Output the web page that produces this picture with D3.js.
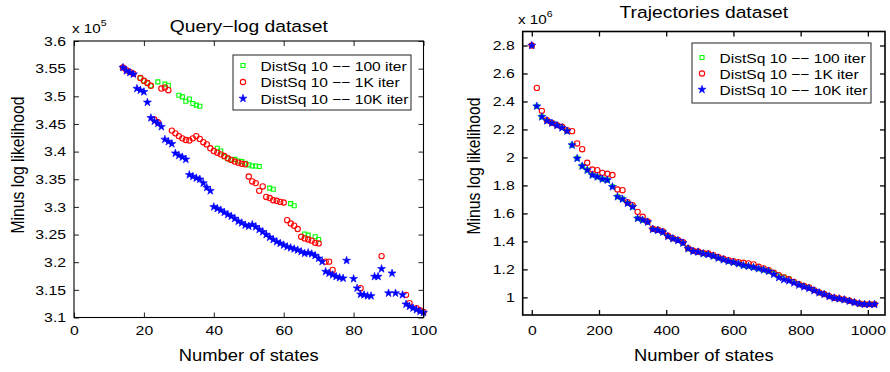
<!DOCTYPE html>
<html>
<head>
<meta charset="utf-8">
<script src="https://cdn.jsdelivr.net/npm/d3@7/dist/d3.min.js"></script>
<style>
  body { margin: 0; background: #fff; }
  svg text { font-family: "Liberation Sans", Arial, Helvetica, sans-serif; fill: #000; }
</style>
</head>
<body>
<svg id="chart" width="890" height="372"></svg>
<script>
// ---- Query-log dataset (values x 1e5) ----
var queryStates100 = [19, 20, 21, 22, 24, 26, 27, 30, 31, 32, 33, 34, 35, 36, 41, 42, 43, 44, 45, 46, 47, 48, 49, 50, 51, 52, 53, 56, 57, 62, 63, 66, 67, 69, 70];
var queryValues100 = [3.533, 3.528, 3.524, 3.519, 3.526, 3.522, 3.520, 3.502, 3.499, 3.491, 3.495, 3.487, 3.484, 3.482, 3.406, 3.401, 3.391, 3.387, 3.385, 3.386, 3.383, 3.382, 3.379, 3.376, 3.374, 3.374, 3.373, 3.334, 3.332, 3.306, 3.302, 3.251, 3.249, 3.246, 3.241];

var queryStates1K = [14, 15, 16, 17, 19, 20, 21, 22, 23, 24, 25, 26, 27, 28, 29, 30, 31, 32, 33, 34, 35, 36, 37, 38, 39, 40, 41, 42, 43, 44, 45, 46, 47, 48, 49, 50, 51, 52, 53, 54, 55, 56, 57, 58, 59, 60, 61, 62, 63, 64, 65, 66, 67, 68, 69, 70, 72, 73, 74, 82, 88, 95, 96, 98, 99, 100];
var queryValues1K = [3.552, 3.547, 3.544, 3.541, 3.533, 3.528, 3.524, 3.519, 3.458, 3.453, 3.514, 3.516, 3.511, 3.438, 3.433, 3.428, 3.424, 3.421, 3.420, 3.424, 3.428, 3.423, 3.417, 3.413, 3.406, 3.401, 3.398, 3.395, 3.392, 3.388, 3.385, 3.382, 3.380, 3.378, 3.377, 3.355, 3.346, 3.343, 3.329, 3.337, 3.318, 3.316, 3.312, 3.311, 3.309, 3.308, 3.276, 3.270, 3.266, 3.260, 3.246, 3.243, 3.241, 3.239, 3.235, 3.234, 3.201, 3.201, 3.186, 3.153, 3.211, 3.141, 3.126, 3.117, 3.113, 3.110];

var queryStates10K = [14, 15, 16, 17, 18, 19, 20, 21, 22, 23, 24, 25, 26, 27, 28, 29, 30, 31, 32, 33, 34, 35, 36, 37, 38, 39, 40, 41, 42, 43, 44, 45, 46, 47, 48, 49, 50, 51, 52, 53, 54, 55, 56, 57, 58, 59, 60, 61, 62, 63, 64, 65, 66, 67, 68, 69, 70, 71, 72, 73, 74, 75, 76, 77, 78, 80, 81, 82, 83, 84, 85, 86, 87, 88, 90, 91, 92, 94, 95, 96, 97, 98, 99, 100];
var queryValues10K = [3.552, 3.546, 3.543, 3.540, 3.514, 3.511, 3.508, 3.489, 3.461, 3.455, 3.451, 3.445, 3.422, 3.418, 3.414, 3.397, 3.393, 3.390, 3.386, 3.358, 3.355, 3.352, 3.350, 3.343, 3.335, 3.329, 3.300, 3.297, 3.294, 3.290, 3.286, 3.283, 3.279, 3.274, 3.271, 3.267, 3.265, 3.268, 3.264, 3.259, 3.255, 3.250, 3.245, 3.241, 3.237, 3.234, 3.231, 3.228, 3.226, 3.224, 3.222, 3.219, 3.216, 3.217, 3.215, 3.212, 3.207, 3.201, 3.183, 3.180, 3.177, 3.174, 3.172, 3.171, 3.203, 3.170, 3.153, 3.142, 3.141, 3.139, 3.139, 3.174, 3.174, 3.188, 3.144, 3.180, 3.144, 3.141, 3.124, 3.120, 3.117, 3.114, 3.111, 3.109];

// ---- Trajectories dataset (values x 1e6) ----
var trajStates = [0, 15, 30, 45, 60, 75, 90, 105, 120, 135, 150, 165, 180, 195, 210, 225, 240, 255, 270, 285, 300, 315, 330, 345, 360, 375, 390, 405, 420, 435, 450, 465, 480, 495, 510, 525, 540, 555, 570, 585, 600, 615, 630, 645, 660, 675, 690, 705, 720, 735, 750, 765, 780, 795, 810, 825, 840, 855, 870, 885, 900, 915, 930, 945, 960, 975, 990, 1005, 1020];
var trajValues100 = [2.800, 2.366, 2.290, 2.262, 2.245, 2.228, 2.212, 2.188, 2.088, 1.993, 1.938, 1.909, 1.874, 1.861, 1.845, 1.838, 1.790, 1.719, 1.702, 1.672, 1.647, 1.564, 1.552, 1.538, 1.486, 1.479, 1.466, 1.435, 1.419, 1.406, 1.388, 1.348, 1.329, 1.324, 1.312, 1.306, 1.295, 1.281, 1.269, 1.258, 1.250, 1.240, 1.228, 1.222, 1.214, 1.205, 1.196, 1.186, 1.170, 1.152, 1.145, 1.133, 1.112, 1.093, 1.078, 1.068, 1.050, 1.033, 1.021, 1.006, 0.995, 0.990, 0.983, 0.973, 0.963, 0.955, 0.950, 0.950, 0.950];
var trajValues1K = [2.800, 2.497, 2.333, 2.266, 2.247, 2.231, 2.219, 2.195, 2.188, 2.100, 2.059, 1.962, 1.914, 1.909, 1.890, 1.883, 1.874, 1.771, 1.766, 1.680, 1.659, 1.611, 1.576, 1.542, 1.490, 1.483, 1.472, 1.440, 1.423, 1.411, 1.394, 1.352, 1.333, 1.328, 1.318, 1.313, 1.302, 1.288, 1.276, 1.266, 1.259, 1.252, 1.247, 1.243, 1.236, 1.219, 1.207, 1.195, 1.176, 1.159, 1.143, 1.129, 1.111, 1.095, 1.081, 1.071, 1.052, 1.036, 1.024, 1.009, 0.997, 0.993, 0.986, 0.976, 0.966, 0.957, 0.952, 0.952, 0.952];
var trajValues10K = [2.800, 2.366, 2.290, 2.262, 2.245, 2.228, 2.212, 2.188, 2.088, 1.993, 1.938, 1.909, 1.874, 1.861, 1.845, 1.838, 1.790, 1.719, 1.702, 1.672, 1.647, 1.564, 1.552, 1.538, 1.486, 1.479, 1.466, 1.435, 1.419, 1.406, 1.388, 1.348, 1.329, 1.324, 1.312, 1.306, 1.295, 1.281, 1.269, 1.258, 1.250, 1.240, 1.228, 1.222, 1.214, 1.205, 1.196, 1.186, 1.165, 1.141, 1.127, 1.118, 1.103, 1.088, 1.075, 1.064, 1.048, 1.033, 1.021, 1.006, 0.995, 0.990, 0.983, 0.973, 0.963, 0.955, 0.950, 0.950, 0.950];

// ---- labels and ticks ----
var seriesNames = ["DistSq 10 \u2212\u2212 100 iter", "DistSq 10 \u2212\u2212 1K iter", "DistSq 10 \u2212\u2212 10K iter"];
var seriesColors = ["#00ff00", "#ff0000", "#0000ff"];
var queryXTicks = [0, 20, 40, 60, 80, 100];
var queryYTicks = [3.1, 3.15, 3.2, 3.25, 3.3, 3.35, 3.4, 3.45, 3.5, 3.55, 3.6];
var trajXTicks = [0, 200, 400, 600, 800, 1000];
var trajYTicks = [1, 1.2, 1.4, 1.6, 1.8, 2, 2.2, 2.4, 2.6, 2.8];

// the source figure is stretched sideways, text follows it
var SX = 1.17;

var svg = d3.select("#chart");

function zip(xs, ys) {
  return xs.map(function (x, i) { return [x, ys[i]]; });
}

var markers = [
  d3.symbol().type(d3.symbolSquare).size(16),
  d3.symbol().type(d3.symbolCircle).size(22),
  d3.symbol().type(d3.symbolStar).size(20)
];

function styleMarker(sel, i) {
  return sel
    .attr("d", markers[i])
    .attr("fill", i == 2 ? seriesColors[i] : "none")
    .attr("stroke", seriesColors[i])
    .attr("stroke-width", i == 2 ? 0.6 : 1.1);
}

function drawMarkers(g, pts, i, x, y) {
  g.selectAll("path.m" + i)
    .data(pts)
    .enter()
    .append("path")
    .attr("class", "m" + i)
    .attr("transform", function (d) { return "translate(" + x(d[0]) + "," + y(d[1]) + ")"; })
    .call(styleMarker, i);
}

function stretchText(g, x, y, str, size, anchor, rot) {
  return g.append("text")
    .attr("transform", "translate(" + x + "," + y + ") scale(" + SX + ",1)" + (rot ? " rotate(" + rot + ")" : ""))
    .attr("text-anchor", anchor || "middle")
    .style("font-size", size + "px")
    .text(str);
}

function panel(o) {
  var g = svg.append("g");
  var x = d3.scaleLinear().domain(o.xDomain).range([o.left, o.right]);
  var y = d3.scaleLinear().domain(o.yDomain).range([o.bottom, o.top]);

  g.append("rect")
    .attr("x", o.left).attr("y", o.top)
    .attr("width", o.right - o.left).attr("height", o.bottom - o.top)
    .attr("fill", "#fff");

  // data, 100 iter under 1K under 10K
  o.series.forEach(function (pts, i) { drawMarkers(g, pts, i, x, y); });

  var ax = function (axis, tx, ty) {
    var a = g.append("g")
      .attr("transform", "translate(" + tx + "," + ty + ")")
      .call(axis);
    a.select(".domain").remove();
    a.selectAll("line").attr("stroke", "#000").attr("stroke-width", o.lw * 0.8);
    return a;
  };

  var bx = ax(d3.axisBottom(x).tickValues(o.xTicks).tickSizeInner(-5).tickSizeOuter(0).tickPadding(o.xPad).tickFormat(d3.format("d")), 0, o.bottom);
  ax(d3.axisTop(x).tickValues(o.xTicks).tickSizeInner(-5).tickSizeOuter(0).tickFormat(""), 0, o.top);
  var by = ax(d3.axisLeft(y).tickValues(o.yTicks).tickSizeInner(-5).tickSizeOuter(0).tickPadding(6.8).tickFormat(o.yFormat), o.left, 0);
  ax(d3.axisRight(y).tickValues(o.yTicks).tickSizeInner(-5).tickSizeOuter(0).tickFormat(""), o.right, 0);

  [bx, by].forEach(function (a) {
    a.selectAll("text")
      .attr("font-family", null)
      .style("font-size", "13.5px")
      .attr("transform", "scale(" + SX + ",1)");
  });

  g.append("rect")
    .attr("x", o.left).attr("y", o.top)
    .attr("width", o.right - o.left).attr("height", o.bottom - o.top)
    .attr("fill", "none")
    .attr("stroke", "#000")
    .attr("stroke-width", o.lw);

  // exponent
  var ex = stretchText(g, o.expX, o.expY, "x 10", 13, "start");
  ex.append("tspan").attr("dy", -7).style("font-size", "9px").text(o.exponent);

  stretchText(g, (o.left + o.right) / 2, o.titleY, o.title, 16.5);
  stretchText(g, (o.left + o.right) / 2, 361, "Number of states", 15.7);
  stretchText(g, o.yLabelX, o.yLabelY, "Minus log likelihood", 15.7, "middle", -90);

  // legend
  var lg = g.append("g");
  lg.append("rect")
    .attr("x", o.legend[0]).attr("y", o.legend[1])
    .attr("width", o.legend[2]).attr("height", o.legend[3])
    .attr("fill", "#fff")
    .attr("stroke", "#222")
    .attr("stroke-width", 1);
  seriesNames.forEach(function (name, i) {
    var cy = o.legend[1] + o.legendFirst + i * o.legendStep;
    lg.append("path")
      .attr("transform", "translate(" + (o.legend[0] + 10) + "," + cy + ")")
      .call(styleMarker, i);
    stretchText(lg, o.legend[0] + 27.5, cy + 5, name, 13.3, "start");
  });
}

panel({
  left: 74, right: 423.5, top: 41, bottom: 317.5,
  xDomain: [0, 100], yDomain: [3.1, 3.6],
  xTicks: queryXTicks, yTicks: queryYTicks,
  yFormat: d3.format(".2~f"),
  xPad: 8, lw: 1.1,
  series: [zip(queryStates100, queryValues100), zip(queryStates1K, queryValues1K), zip(queryStates10K, queryValues10K)],
  title: "Query\u2212log dataset", titleY: 32,
  exponent: "5", expX: 72, expY: 33,
  yLabelX: 24, yLabelY: 165,
  legend: [233, 55, 178, 55], legendFirst: 10.5, legendStep: 16.5
});

panel({
  left: 522.7, right: 885, top: 31.5, bottom: 315,
  xDomain: [-27, 1051], yDomain: [0.874, 2.9],
  xTicks: trajXTicks, yTicks: trajYTicks,
  yFormat: d3.format(".1~f"),
  xPad: 10.5, lw: 1.6,
  series: [zip(trajStates, trajValues100), zip(trajStates, trajValues1K), zip(trajStates, trajValues10K)],
  title: "Trajectories dataset", titleY: 18,
  exponent: "6", expX: 518, expY: 24,
  yLabelX: 480, yLabelY: 166,
  legend: [692, 43, 179, 60], legendFirst: 14.5, legendStep: 16
});
</script>
</body>
</html>
